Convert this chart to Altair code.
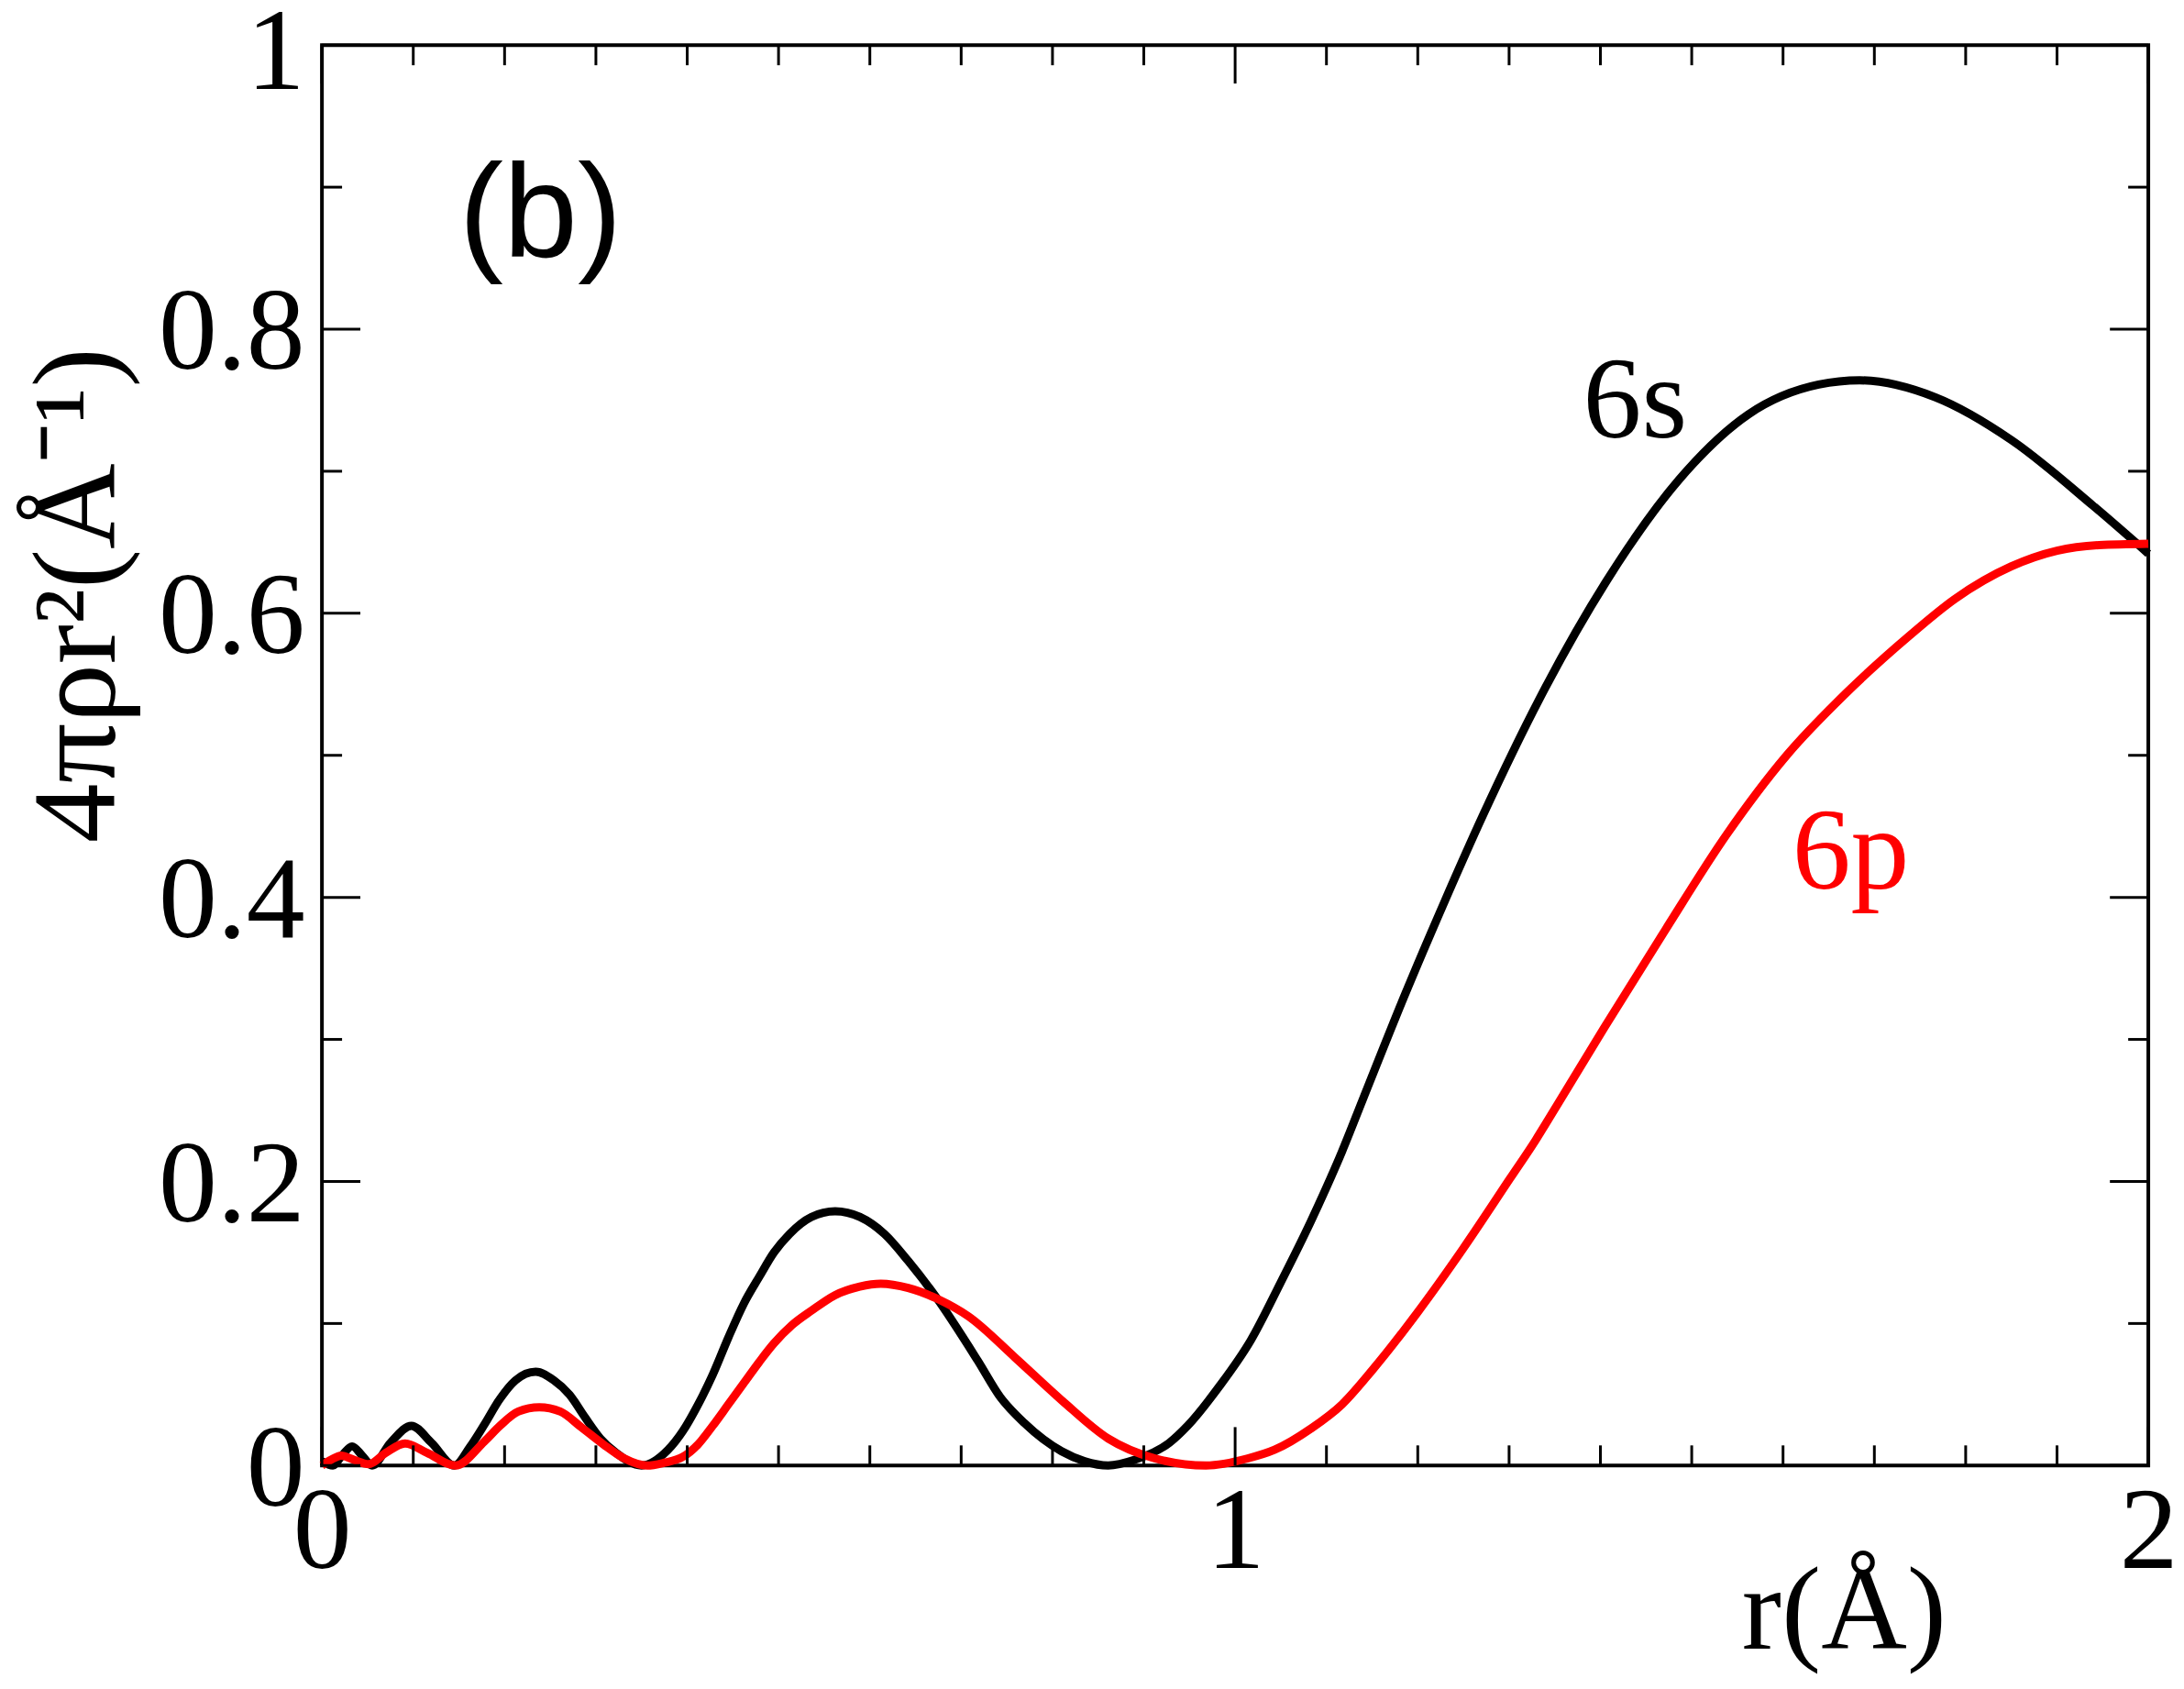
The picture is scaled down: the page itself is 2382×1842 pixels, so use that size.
import altair as alt
import pandas as pd

# ---- data ----
r_6s = [0.000, 0.012, 0.022, 0.033, 0.044, 0.055, 0.075, 0.098, 0.120, 0.145,
        0.162, 0.178, 0.195, 0.212, 0.234, 0.254, 0.271, 0.288, 0.305, 0.322,
        0.350, 0.379, 0.395, 0.412, 0.428, 0.445, 0.462, 0.479, 0.495, 0.512,
        0.536, 0.562, 0.589, 0.616, 0.642, 0.672, 0.718, 0.743, 0.769, 0.810,
        0.835, 0.861, 0.890, 0.928, 0.948, 0.983, 1.017, 1.050, 1.083, 1.117,
        1.140, 1.185, 1.230, 1.273, 1.340, 1.406, 1.486, 1.562, 1.639, 1.684,
        1.767, 1.850, 1.939, 2.000]
v_6s = [0.003, 0.000, 0.007, 0.0135, 0.007, 0.000, 0.016, 0.028, 0.016, 0.000,
        0.013, 0.029, 0.047, 0.060, 0.066, 0.060, 0.050, 0.034, 0.019, 0.009,
        0.000, 0.011, 0.024, 0.043, 0.064, 0.090, 0.114, 0.133, 0.150, 0.163,
        0.175, 0.179, 0.175, 0.163, 0.144, 0.119, 0.074, 0.048, 0.030, 0.010,
        0.003, 0.000, 0.004, 0.016, 0.028, 0.056, 0.088, 0.129, 0.172, 0.221,
        0.258, 0.330, 0.398, 0.460, 0.548, 0.622, 0.694, 0.740, 0.761, 0.764,
        0.752, 0.722, 0.676, 0.642]

r_6p = [0.000, 0.010, 0.021, 0.035, 0.051, 0.070, 0.091, 0.115, 0.146, 0.178,
        0.195, 0.215, 0.238, 0.261, 0.284, 0.308, 0.331, 0.356, 0.375, 0.395,
        0.412, 0.428, 0.445, 0.462, 0.479, 0.495, 0.515, 0.536, 0.562, 0.589,
        0.612, 0.642, 0.675, 0.708, 0.759, 0.810, 0.861, 0.912, 0.968, 1.014,
        1.043, 1.083, 1.117, 1.150, 1.200, 1.250, 1.301, 1.329, 1.351, 1.404,
        1.471, 1.538, 1.604, 1.671, 1.738, 1.788, 1.850, 1.900, 1.946, 2.000]
v_6p = [0.000, 0.004, 0.007, 0.004, 0.001, 0.009, 0.0155, 0.009, 0.000, 0.017,
        0.028, 0.038, 0.041, 0.038, 0.027, 0.015, 0.005, 0.000, 0.002, 0.006,
        0.015, 0.028, 0.043, 0.058, 0.073, 0.086, 0.099, 0.109, 0.120, 0.126,
        0.128, 0.125, 0.117, 0.105, 0.076, 0.046, 0.019, 0.005, 0.000, 0.005,
        0.011, 0.026, 0.043, 0.067, 0.108, 0.153, 0.202, 0.229, 0.252, 0.308,
        0.377, 0.444, 0.500, 0.545, 0.584, 0.610, 0.633, 0.644, 0.648, 0.649]

x_major_ticks = [0, 1, 2]
x_minor_ticks = [0.1, 0.2, 0.3, 0.4, 0.5, 0.6, 0.7, 0.8, 0.9,
                 1.1, 1.2, 1.3, 1.4, 1.5, 1.6, 1.7, 1.8, 1.9]
y_major_ticks = [0, 0.2, 0.4, 0.6, 0.8, 1.0]
y_minor_ticks = [0.1, 0.3, 0.5, 0.7, 0.9]

panel_label = ["(b)"]
panel_r = [0.150]
panel_v = [0.851]
series_labels = ["6s", "6p"]
series_label_r = [1.381, 1.610]
series_label_v = [0.724, 0.406]
series_colors = ["#000000", "#ff0000"]

# ---- layout / style ----
W, H = 1997, 1553
SERIF = "Liberation Serif, Times New Roman, Times, serif"
SANS = "Liberation Sans, Arial, Helvetica, sans-serif"
FS = 128
MAJ, MIN = 42, 22

xs = alt.Scale(domain=[0, 2], nice=False, zero=False)
ys = alt.Scale(domain=[0, 1], nice=False, zero=False)

x_axis = alt.Axis(values=x_major_ticks, format="~g", ticks=False, tickSize=0,
                  domain=False, grid=False, labelFont=SERIF, labelFontSize=FS,
                  labelColor="black", labelPadding=11, labelFlush=False,
                  labelOverlap=False, labelAlign="center", labelBaseline="top",
                  title="r(Å)", titleFont=SERIF, titleFontSize=130,
                  titleFontWeight="normal", titleColor="black",
                  titleX=1664, titleY=200, titleAlign="center",
                  titleBaseline="alphabetic", titleAngle=0)
y_axis = alt.Axis(values=y_major_ticks, format="~g", ticks=False, tickSize=0,
                  domain=False, grid=False, labelFont=SERIF, labelFontSize=FS,
                  labelColor="black", labelPadding=19, labelFlush=False,
                  labelOverlap=False, labelAlign="right", labelBaseline="middle",
                  labelOffset={"condition": {"test": "datum.value === 1", "value": 9},
                               "value": 5},
                  title="4πρr²(Å⁻¹)", titleFont=SERIF, titleFontSize=130,
                  titleFontWeight="normal", titleColor="black",
                  titleX=-227, titleY=601, titleAlign="center",
                  titleBaseline="alphabetic", titleAngle=270)

X = lambda f: alt.X(f, scale=xs, axis=x_axis)
Y = lambda f: alt.Y(f, scale=ys, axis=y_axis)

df6s = pd.DataFrame({"r": r_6s, "v": v_6s})
df6p = pd.DataFrame({"r": r_6p, "v": v_6p})

line6s = alt.Chart(df6s).mark_line(color=series_colors[0], strokeWidth=9,
                                   interpolate="monotone").encode(
    x=X("r:Q"), y=Y("v:Q"))
line6p = alt.Chart(df6p).mark_line(color=series_colors[1], strokeWidth=9,
                                   interpolate="monotone").encode(
    x=X("r:Q"), y=Y("v:Q"))


def xticks(vals, length):
    d = pd.DataFrame({"r": vals})
    bottom = alt.Chart(d).mark_rule(color="black", strokeWidth=3).encode(
        x=X("r:Q"), y=alt.value(H), y2=alt.value(H - length))
    top = alt.Chart(d).mark_rule(color="black", strokeWidth=3).encode(
        x=X("r:Q"), y=alt.value(0), y2=alt.value(length))
    return [bottom, top]


def yticks(vals, length):
    d = pd.DataFrame({"v": vals})
    left = alt.Chart(d).mark_rule(color="black", strokeWidth=3).encode(
        y=Y("v:Q"), x=alt.value(0), x2=alt.value(length))
    right = alt.Chart(d).mark_rule(color="black", strokeWidth=3).encode(
        y=Y("v:Q"), x=alt.value(W), x2=alt.value(W - length))
    return [left, right]


tick_layers = (xticks(x_major_ticks, MAJ) + xticks(x_minor_ticks, MIN)
               + yticks(y_major_ticks, MAJ) + yticks(y_minor_ticks, MIN))

panel_df = pd.DataFrame({"r": panel_r, "v": panel_v, "t": panel_label})
panel_text = alt.Chart(panel_df).mark_text(
    font=SANS, fontSize=146, align="left", baseline="alphabetic",
    color="black").encode(x=X("r:Q"), y=Y("v:Q"), text="t:N")

lab_df = pd.DataFrame({"r": series_label_r, "v": series_label_v,
                       "t": series_labels, "c": series_colors})
lab_text = alt.Chart(lab_df).mark_text(
    font=SERIF, fontSize=FS, align="left", baseline="alphabetic").encode(
    x=X("r:Q"), y=Y("v:Q"), text="t:N",
    color=alt.Color("c:N", scale=None, legend=None))

chart = alt.layer(line6s, line6p, *tick_layers, panel_text, lab_text).properties(
    width=W, height=H,
    padding={"left": 344, "top": 39, "right": 31, "bottom": 230},
    autosize=alt.AutoSizeParams(type="none"),
    background="white",
).configure_view(stroke="black", strokeWidth=4)

chart.save("out.html", embed_options={"renderer": "svg", "actions": False})
